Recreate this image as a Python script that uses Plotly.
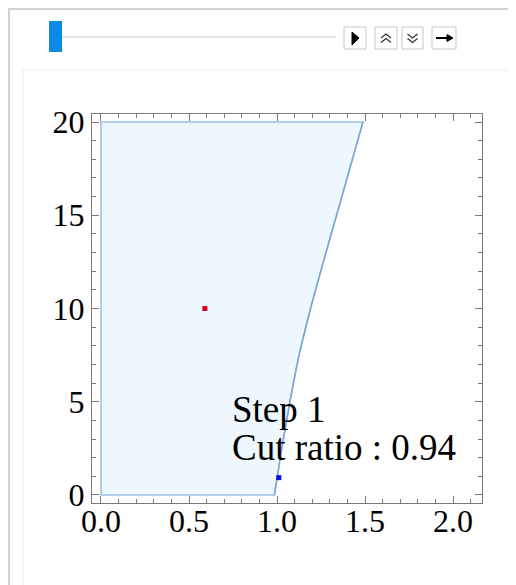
import plotly.graph_objects as go

# ---- data ----
region_x = [0.0, 0.985, 1.027, 1.073, 1.125, 1.19, 1.263, 1.338, 1.413, 1.488, 0.0, 0.0]
region_y = [0.0, 0.0, 2.5, 5.0, 7.5, 10.0, 12.5, 15.0, 17.5, 20.0, 20.0, 0.0]
red_point = (0.59, 10.0)
blue_point = (1.01, 0.93)
step_label = "Step 1"
ratio_label = "Cut ratio : 0.94"
x_ticks = [0.0, 0.5, 1.0, 1.5, 2.0]
y_ticks = [0, 5, 10, 15, 20]

OFF = 8  # page body margin
W, H = 516 - OFF, 585 - OFF
L, T = 92 - OFF, 114 - OFF
R = W - (482 - OFF)
B = H - (503 - OFF)
PW, PH = W - L - R, H - T - B


def px(x):
    return (x - OFF - L) / PW


def py(y):
    return (H - B - (y - OFF)) / PH


fig = go.Figure()
fig.add_trace(go.Scatter(x=region_x, y=region_y, mode="lines", fill="toself",
                         fillcolor="#EEF7FE", line=dict(color="#9CBCE2", width=1.5),
                         hoverinfo="skip", showlegend=False))
# curved cut edge (points 1..9 of the region outline)
fig.add_trace(go.Scatter(x=region_x[1:10], y=region_y[1:10], mode="lines",
                         line=dict(color="#7FA4D6", width=1.5, shape="spline", smoothing=0.8),
                         hoverinfo="skip", showlegend=False))
fig.add_trace(go.Scatter(x=[red_point[0]], y=[red_point[1]], mode="markers",
                         marker=dict(color="#D0001A", size=5, symbol="square"), showlegend=False))
fig.add_trace(go.Scatter(x=[blue_point[0]], y=[blue_point[1]], mode="markers",
                         marker=dict(color="#0010E0", size=5, symbol="square"), showlegend=False))

serif = "Liberation Serif, Times New Roman, serif"
axis_common = dict(showline=True, linecolor="#7a7a7a", linewidth=1, mirror="allticks",
                   ticks="inside", ticklen=7, tickcolor="#7a7a7a", tickwidth=1,
                   showgrid=False, zeroline=False,
                   tickfont=dict(family=serif, size=32, color="black"))
fig.update_xaxes(range=[-0.051, 2.164], tickvals=x_ticks, ticktext=[f"{v:.1f}" for v in x_ticks],
                 minor=dict(ticks="inside", ticklen=4, dtick=0.1, tick0=0, tickcolor="#7a7a7a", showgrid=False),
                 ticklabelstandoff=-10, **axis_common)
fig.update_yaxes(range=[-0.43, 20.43], tickvals=y_ticks, ticktext=[str(v) for v in y_ticks],
                 minor=dict(ticks="inside", ticklen=4, dtick=1, tick0=0, tickcolor="#7a7a7a", showgrid=False),
                 **axis_common)

fig.add_annotation(x=0.73, y=4.56, text=step_label, showarrow=False, xanchor="left", yanchor="middle",
                   font=dict(family=serif, size=37, color="black"))
fig.add_annotation(x=0.73, y=2.57, text=ratio_label, showarrow=False, xanchor="left", yanchor="middle",
                   font=dict(family=serif, size=37, color="black"))

shapes = []
# outer and inner panels
shapes.append(dict(type="rect", xref="paper", yref="paper", x0=px(9), x1=px(540), y0=py(9), y1=py(620),
                   line=dict(color="#d2d2d2", width=2), layer="below"))
shapes.append(dict(type="rect", xref="paper", yref="paper", x0=px(23), x1=px(512), y0=py(70), y1=py(620),
                   line=dict(color="#ececec", width=1), layer="below"))
# slider
shapes.append(dict(type="line", xref="paper", yref="paper", x0=px(62), x1=px(336), y0=py(37), y1=py(37),
                   line=dict(color="#e8e8e8", width=2)))
shapes.append(dict(type="rect", xref="paper", yref="paper", x0=px(49), x1=px(62), y0=py(21), y1=py(52),
                   fillcolor="#0A8BE6", line=dict(width=0)))
# buttons
for x0, x1 in [(344, 366), (375, 397), (402, 423), (432, 456)]:
    shapes.append(dict(type="rect", xref="paper", yref="paper", x0=px(x0), x1=px(x1), y0=py(27), y1=py(49),
                       fillcolor="white", line=dict(color="#c6c6c6", width=1)))


def path(points, close=False):
    s = "M " + " L ".join(f"{px(a):.5f},{py(b):.5f}" for a, b in points)
    return s + (" Z" if close else "")


shapes.append(dict(type="path", xref="paper", yref="paper", path=path([(352, 32), (359, 38), (352, 45)], True),
                   fillcolor="black", line=dict(color="black", width=1)))
for yy in (34, 38.5):
    shapes.append(dict(type="path", xref="paper", yref="paper",
                       path=path([(381, yy + 4), (386, yy), (391, yy + 4)]),
                       line=dict(color="#333", width=1.3)))
    shapes.append(dict(type="path", xref="paper", yref="paper",
                       path=path([(407.5, yy), (412.5, yy + 4), (417.5, yy)]),
                       line=dict(color="#333", width=1.3)))
shapes.append(dict(type="line", xref="paper", yref="paper", x0=px(436), x1=px(450), y0=py(38), y1=py(38),
                   line=dict(color="black", width=2)))
shapes.append(dict(type="path", xref="paper", yref="paper", path=path([(447, 34.5), (453, 38), (447, 41.5)], True),
                   fillcolor="black", line=dict(color="black", width=1)))

fig.update_layout(width=W, height=H, margin=dict(l=L, r=R, t=T, b=B, autoexpand=False),
                  paper_bgcolor="white", plot_bgcolor="white", shapes=shapes, showlegend=False)

fig.write_html("out.html")
